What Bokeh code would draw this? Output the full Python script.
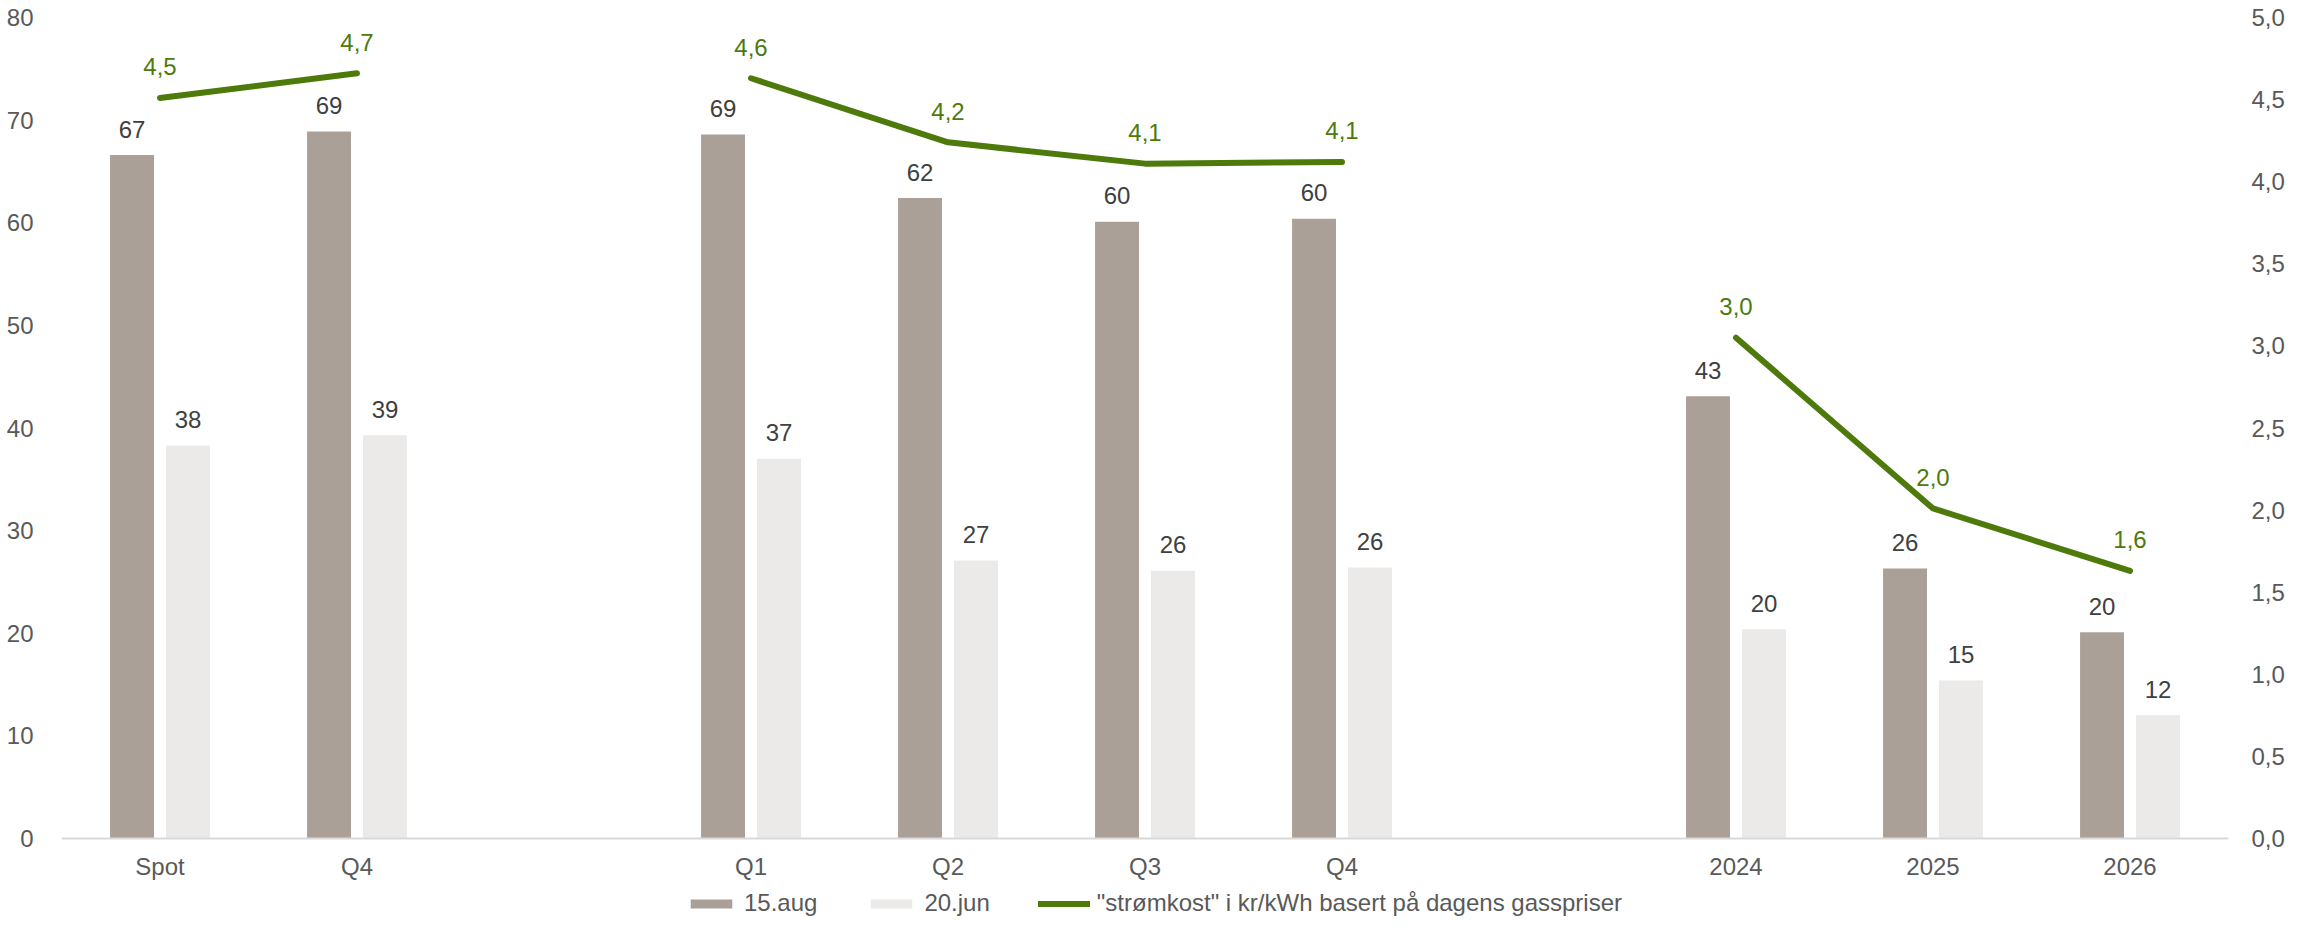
import math
from bokeh.plotting import figure
from bokeh.models import (ColumnDataSource, Range1d, LinearAxis, FixedTicker,
                          CustomJSTickFormatter, Legend, LegendItem)
from bokeh.transform import dodge
from bokeh.core.properties import value
from bokeh.embed import file_html
from bokeh.resources import INLINE

# ---- data ----
categories = ["Spot", "Q4", "", "Q1", "Q2", "Q3", "Q4", "", "2024", "2025", "2026"]
aug15 = [66.6, 68.9, None, 68.6, 62.4, 60.1, 60.4, None, 43.1, 26.3, 20.1]
jun20 = [38.3, 39.3, None, 37.0, 27.1, 26.1, 26.4, None, 20.4, 15.4, 12.0]
strom = [4.51, 4.66, None, 4.63, 4.24, 4.11, 4.12, None, 3.05, 2.01, 1.63]
series_names = ["15.aug", "20.jun", "\"strømkost\" i kr/kWh basert på dagens gasspriser"]

FONT = "Liberation Sans"
C_AUG = "#ABA097"
C_JUN = "#EBEAE8"
C_LINE = "#4E7A0B"
C_TXT = "#404040"
C_AX = "#595959"
FS = "24px"

# layout (pixels): zero line at 838, top tick at 17, figure bottom at 918
H, TOP, ZERO = 918, 17, 838
ppu_l = (ZERO - TOP) / 80.0
ppu_r = (ZERO - TOP) / 5.0
ymin_l = -(H - ZERO) / ppu_l
ymin_r = -(H - ZERO) / ppu_r

idx = [i for i, v in enumerate(aug15) if v is not None]
bars = ColumnDataSource(dict(
    x=idx,
    aug=[aug15[i] for i in idx],
    jun=[jun20[i] for i in idx],
    aug_lbl=[str(int(round(aug15[i]))) for i in idx],
    jun_lbl=[str(int(round(jun20[i]))) for i in idx],
))
line_src = ColumnDataSource(dict(
    x=list(range(len(categories))),
    y=[float("nan") if v is None else v for v in strom],
))
lbl_idx = [i for i, v in enumerate(strom) if v is not None]
line_lbl = ColumnDataSource(dict(
    x=lbl_idx,
    y=[strom[i] for i in lbl_idx],
    t=[f"{strom[i]:.1f}".replace(".", ",") for i in lbl_idx],
))

p = figure(width=2294, height=H, output_backend="svg", toolbar_location=None,
           x_range=Range1d(-0.5, len(categories) - 0.5), y_range=Range1d(ymin_l, 80),
           min_border_left=61, min_border_right=66, min_border_top=TOP, min_border_bottom=0)
p.extra_y_ranges = {"right": Range1d(ymin_r, 5)}
p.outline_line_color = None
p.xgrid.visible = False
p.ygrid.visible = False
p.background_fill_color = "white"
p.border_fill_color = "white"

off = 0.142
bw = 0.223
r_aug = p.vbar(x=dodge("x", -off, range=p.x_range), top="aug", width=bw, bottom=0,
               source=bars, fill_color=C_AUG, line_color=None)
r_jun = p.vbar(x=dodge("x", off, range=p.x_range), top="jun", width=bw, bottom=0,
               source=bars, fill_color=C_JUN, line_color=None)
p.text(x=dodge("x", -off, range=p.x_range), y="aug", text="aug_lbl", source=bars,
       text_align="center", text_baseline="alphabetic", y_offset=-26,
       text_font=value(FONT), text_font_size=FS, text_color=C_TXT)
p.text(x=dodge("x", off, range=p.x_range), y="jun", text="jun_lbl", source=bars,
       text_align="center", text_baseline="alphabetic", y_offset=-26,
       text_font=value(FONT), text_font_size=FS, text_color=C_TXT)

r_line = p.line(x="x", y="y", source=line_src, y_range_name="right",
                line_color=C_LINE, line_width=6, line_cap="round", line_join="round")
p.text(x="x", y="y", text="t", source=line_lbl, y_range_name="right",
       text_align="center", text_baseline="alphabetic", y_offset=-31,
       text_font=value(FONT), text_font_size=FS, text_color=C_LINE)

# axes
xa = p.xaxis[0]
xa.fixed_location = 0
xa.ticker = FixedTicker(ticks=[i for i, c in enumerate(categories) if c])
xa.major_label_overrides = {i: c for i, c in enumerate(categories) if c}
xa.axis_line_color = "#D9D9D9"
xa.axis_line_width = 2
xa.major_tick_line_color = None
xa.minor_tick_line_color = None
xa.major_label_standoff = 8
xa.major_label_text_font = FONT
xa.major_label_text_font_size = FS
xa.major_label_text_color = C_AX

ya = p.yaxis[0]
ya.ticker = FixedTicker(ticks=list(range(0, 81, 10)))
ya.axis_line_color = None
ya.major_tick_line_color = None
ya.minor_tick_line_color = None
ya.major_label_standoff = 22
ya.major_label_text_font = FONT
ya.major_label_text_font_size = FS
ya.major_label_text_color = C_AX

yr = LinearAxis(y_range_name="right", ticker=FixedTicker(ticks=[i * 0.5 for i in range(11)]),
                formatter=CustomJSTickFormatter(code="return tick.toFixed(1).replace('.', ',');"))
yr.axis_line_color = None
yr.major_tick_line_color = None
yr.minor_tick_line_color = None
yr.major_label_standoff = 17
yr.major_label_text_font = FONT
yr.major_label_text_font_size = FS
yr.major_label_text_color = C_AX
p.add_layout(yr, "right")

legend = Legend(items=[
    LegendItem(label=series_names[0], renderers=[r_aug]),
    LegendItem(label=series_names[1], renderers=[r_jun]),
    LegendItem(label=series_names[2], renderers=[r_line]),
], orientation="horizontal", location=(624, 1))
legend.margin = 0
legend.padding = 0
legend.spacing = 48
legend.border_line_color = None
legend.background_fill_alpha = 0
legend.glyph_width = 52
legend.glyph_height = 11
legend.label_standoff = 7
legend.label_height = 20
legend.label_text_font = FONT
legend.label_text_font_size = FS
legend.label_text_color = C_AX
legend.label_text_baseline = "middle"
p.add_layout(legend, "center")

open("out.html", "w").write(file_html(p, INLINE))
